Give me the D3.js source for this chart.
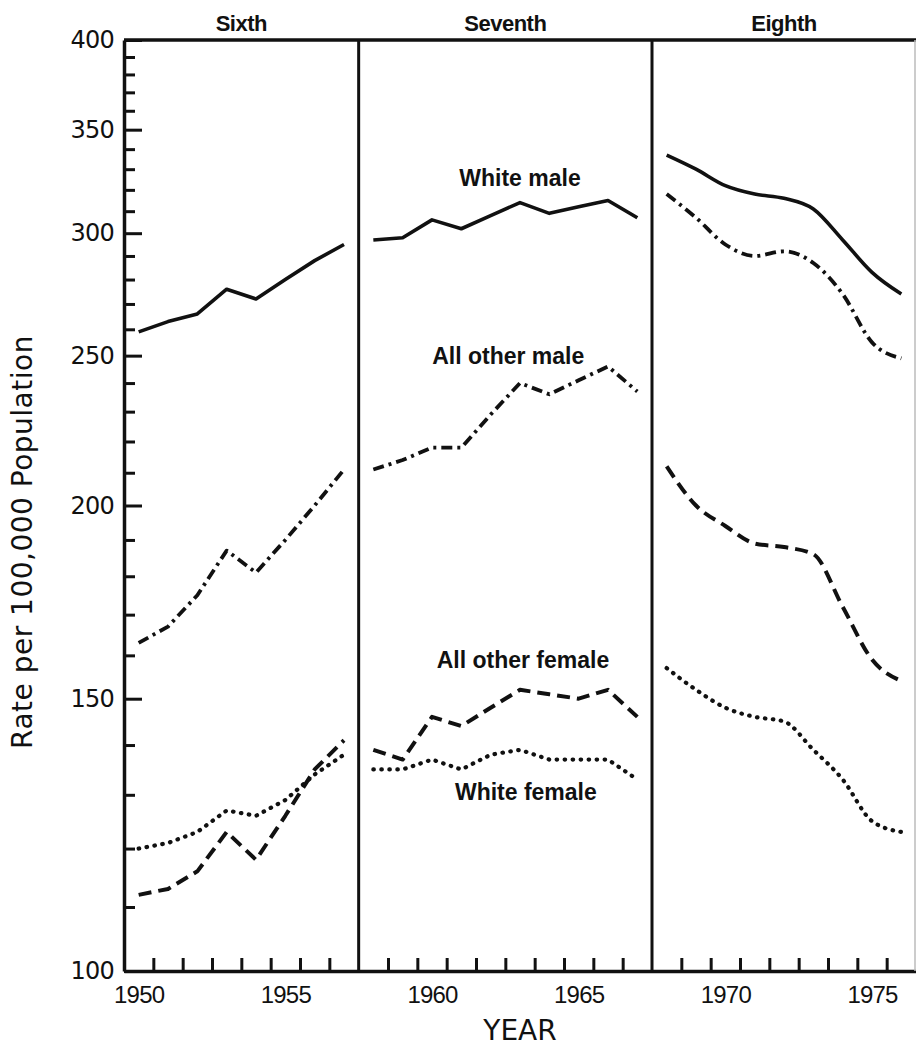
<!DOCTYPE html>
<html>
<head>
<meta charset="utf-8">
<script src="https://cdn.jsdelivr.net/npm/d3@7/dist/d3.min.js"></script>
<style>
  body { margin: 0; background: #fff; }
</style>
</head>
<body>
<div id="chart"></div>
<script>
// ICD revision panels and the years in each
var revisions = ["Sixth", "Seventh", "Eighth"];
var years6 = [1950, 1951, 1952, 1953, 1954, 1955, 1956, 1957];
var years7 = [1958, 1959, 1960, 1961, 1962, 1963, 1964, 1965, 1966, 1967];
var years8 = [1968, 1969, 1970, 1971, 1972, 1973, 1974, 1975, 1976];

// Rates per 100,000
var whiteMale6 = [259, 263, 266, 276, 272, 280, 288, 295];
var whiteMale7 = [297, 298, 306, 302, 308, 314, 309, 312, 315, 307];
var whiteMale8 = [337, 330, 322, 318, 316, 311, 297, 283, 274];

var otherMale6 = [163, 167, 175, 187, 181, 190, 200, 211];
var otherMale7 = [211, 214, 218, 218, 229, 240, 236, 241, 246, 237];
var otherMale8 = [318, 307, 295, 290, 292, 287, 274, 255, 249];

var otherFemale6 = [112, 113, 116, 123, 118, 126, 135, 141];
var otherFemale7 = [139, 137, 146, 144, 148, 152, 151, 150, 152, 146];
var otherFemale8 = [212, 200, 194, 189, 188, 186, 172, 159, 154];

var whiteFemale6 = [120, 121, 123, 127, 126, 129, 134, 138];
var whiteFemale7 = [135, 135, 137, 135, 138, 139, 137, 137, 137, 133];
var whiteFemale8 = [157, 152, 148, 146, 145, 139, 133, 125, 123];

// Axis ticks
var yMajorTicks = [100, 150, 200, 250, 300, 350, 400];
var yMinorTicks = [110, 120, 130, 140, 160, 170, 180, 190, 210, 220, 230, 240,
                   260, 270, 280, 290, 310, 320, 330, 340, 360, 370, 380, 390];
var xLabelTicks = [1950, 1955, 1960, 1965, 1970, 1975];
var panelEdges = [1949.5, 1957.5, 1967.5, 1976.5];

var svgWidth = 916,
    svgHeight = 1047;

var svg = d3.select("#chart").append("svg")
    .attr("width", svgWidth)
    .attr("height", svgHeight)
    .style("background", "#fff");

var ink = "#111";

var x = d3.scaleLinear()
    .domain([panelEdges[0], panelEdges[3]])
    .range([124, 916]);

var y = d3.scaleLog()
    .domain([100, 400])
    .range([971, 40]);

// Series table, one entry per line style
var yearsByPanel = [years6, years7, years8];
var series = [
    { values: [whiteMale6, whiteMale7, whiteMale8], dash: null, width: 3.6, cap: "butt" },
    { values: [otherMale6, otherMale7, otherMale8], dash: "11,5,3,5", width: 3.8, cap: "butt" },
    { values: [otherFemale6, otherFemale7, otherFemale8], dash: "13,7", width: 4, cap: "butt" },
    { values: [whiteFemale6, whiteFemale7, whiteFemale8], dash: "0.5,7.5", width: 4.2, cap: "round" }
];

// Left axis: minor ticks then major ticks with labels
svg.append("g")
    .attr("transform", `translate(${x(panelEdges[0])}, 0)`)
    .call(d3.axisLeft(y).tickValues(yMinorTicks).tickSizeInner(-11).tickSizeOuter(0).tickFormat(""))
    .call(g => g.select(".domain").remove())
    .selectAll("line").attr("stroke", ink).attr("stroke-width", 3);

var yAxis = svg.append("g")
    .attr("transform", `translate(${x(panelEdges[0])}, 0)`)
    .call(d3.axisLeft(y).tickValues(yMajorTicks).tickSizeInner(-18).tickSizeOuter(0)
        .tickPadding(10).tickFormat(d3.format("d")));
yAxis.select(".domain").attr("stroke", ink).attr("stroke-width", 3.5);
yAxis.selectAll("line").attr("stroke", ink).attr("stroke-width", 3);
yAxis.selectAll("text")
    .attr("fill", ink)
    .attr("font-family", "DejaVu Sans, sans-serif")
    .attr("font-size", 24)
    .attr("letter-spacing", "-0.8");

// Bottom axis: year-boundary ticks pointing up (not at panel dividers)
var yearTicks = d3.range(1950.5, 1976, 1).filter(v => panelEdges.indexOf(v) < 0);
var xAxis = svg.append("g")
    .attr("transform", `translate(0, ${y(100)})`)
    .call(d3.axisBottom(x).tickValues(yearTicks).tickSizeInner(-13).tickSizeOuter(0).tickFormat(""));
xAxis.select(".domain").attr("stroke", ink).attr("stroke-width", 3.5);
xAxis.selectAll("line").attr("stroke", ink).attr("stroke-width", 3);

svg.append("g")
    .attr("transform", `translate(0, ${y(100)})`)
    .call(d3.axisBottom(x).tickValues(xLabelTicks).tickSize(0).tickPadding(15).tickFormat(d3.format("d")))
    .call(g => g.select(".domain").remove())
    .selectAll("text")
        .attr("fill", ink)
        .attr("font-family", "Liberation Sans, Arial, sans-serif")
        .attr("font-size", 24)
        .attr("letter-spacing", "-0.8");

// Frame: top line, panel dividers, faint right edge
svg.append("line")
    .attr("x1", x(panelEdges[0])).attr("x2", x(panelEdges[3]))
    .attr("y1", y(400)).attr("y2", y(400))
    .attr("stroke", ink).attr("stroke-width", 3.5);

svg.selectAll(".divider")
    .data([panelEdges[1], panelEdges[2]])
    .enter()
    .append("line")
        .attr("x1", d => x(d)).attr("x2", d => x(d))
        .attr("y1", y(400)).attr("y2", y(100))
        .attr("stroke", ink).attr("stroke-width", 3);

svg.append("line")
    .attr("x1", x(panelEdges[3]) - 1).attr("x2", x(panelEdges[3]) - 1)
    .attr("y1", y(400)).attr("y2", y(100))
    .attr("stroke", "#bbb").attr("stroke-width", 1.5);

// Panel titles
svg.selectAll(".rev")
    .data(revisions)
    .enter()
    .append("text")
        .attr("x", (d, i) => x((panelEdges[i] + panelEdges[i + 1]) / 2))
        .attr("y", 31)
        .attr("text-anchor", "middle")
        .attr("font-family", "Liberation Sans, Arial, sans-serif")
        .attr("font-weight", "bold")
        .attr("font-size", 22)
        .attr("letter-spacing", "-0.5")
        .attr("fill", ink)
        .text(d => d);

// Lines, one path per series per panel (Eighth is drawn smooth)
series.forEach(function(s) {
    s.values.forEach(function(vals, p) {
        var pts = yearsByPanel[p].map((yr, i) => ({ year: yr, value: vals[i] }));
        var line = d3.line()
            .x(d => x(d.year))
            .y(d => y(d.value))
            .curve(p === 2 ? d3.curveMonotoneX : d3.curveLinear);
        svg.append("path")
            .datum(pts)
            .attr("d", line)
            .attr("fill", "none")
            .attr("stroke", ink)
            .attr("stroke-width", s.width)
            .attr("stroke-linecap", s.cap)
            .attr("stroke-linejoin", "round")
            .attr("stroke-dasharray", s.dash);
    });
});

// Series labels in the Seventh panel
var labelSpots = [
    { text: "White male", year: 1963, value: 322 },
    { text: "All other male", year: 1962.6, value: 247 },
    { text: "All other female", year: 1963.1, value: 157 },
    { text: "White female", year: 1963.2, value: 129 }
];
svg.selectAll(".slabel")
    .data(labelSpots)
    .enter()
    .append("text")
        .attr("x", d => x(d.year))
        .attr("y", d => y(d.value))
        .attr("text-anchor", "middle")
        .attr("font-family", "Liberation Sans, Arial, sans-serif")
        .attr("font-weight", "bold")
        .attr("font-size", 23)
        .attr("fill", ink)
        .text(d => d.text);

// Axis titles
svg.append("text")
    .attr("x", (x(panelEdges[0]) + x(panelEdges[3])) / 2)
    .attr("y", 1040)
    .attr("text-anchor", "middle")
    .attr("font-family", "DejaVu Sans, sans-serif")
    .attr("font-size", 28)
    .attr("fill", ink)
    .text("YEAR");

svg.append("text")
    .attr("transform", "translate(32, 542) rotate(-90)")
    .attr("text-anchor", "middle")
    .attr("font-family", "DejaVu Sans, sans-serif")
    .attr("font-size", 28)
    .attr("letter-spacing", "0.5")
    .attr("fill", ink)
    .text("Rate per 100,000 Population");
</script>
</body>
</html>
